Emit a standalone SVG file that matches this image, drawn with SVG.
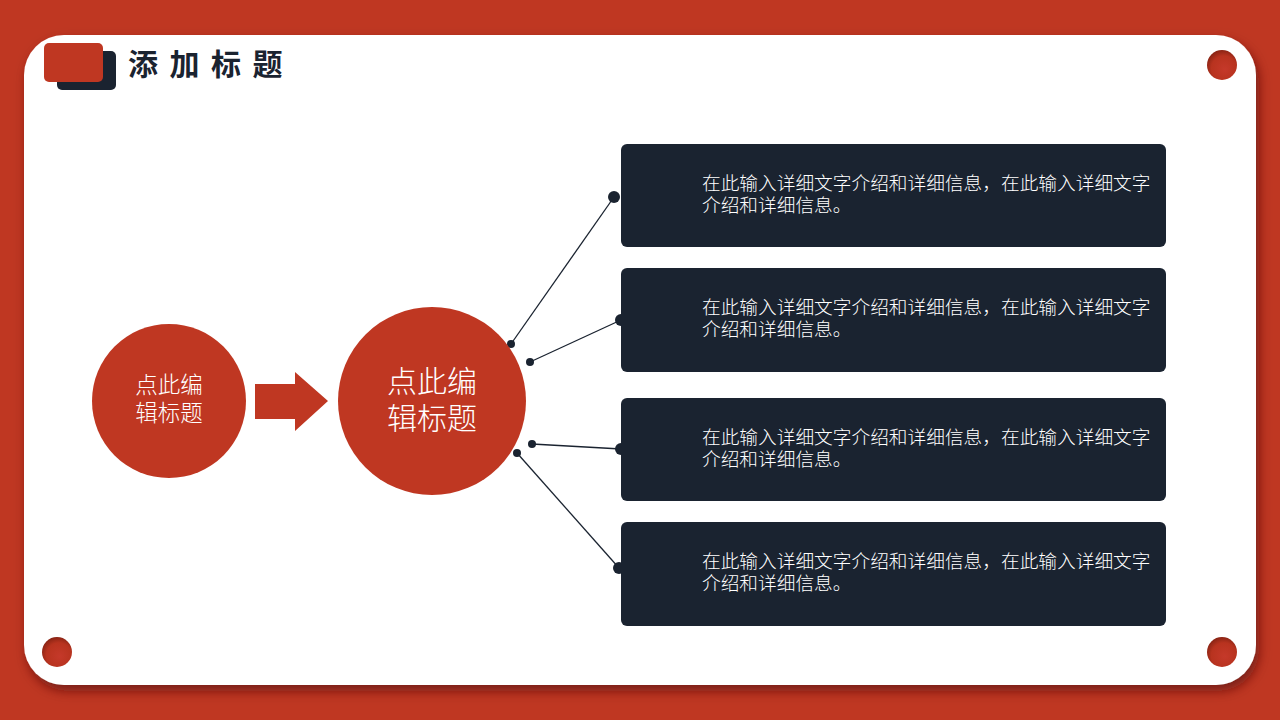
<svg xmlns="http://www.w3.org/2000/svg" width="1280" height="720" viewBox="0 0 1280 720">
<defs>
<filter id="sh" x="-5%" y="-5%" width="110%" height="115%">
<feDropShadow dx="3" dy="6" stdDeviation="6" flood-color="#5a1208" flood-opacity="0.7"/>
</filter>
<radialGradient id="dotg" cx="0.55" cy="0.6" r="0.6" fx="0.6" fy="0.65">
<stop offset="0" stop-color="#C5392A"/>
<stop offset="0.7" stop-color="#B8331F"/>
<stop offset="1" stop-color="#8A2414"/>
</radialGradient>
<style>
.box{fill:#1A2330;}
.red{fill:#BF3722;}
.bt{font-family:"Noto Sans CJK SC","Noto Sans",sans-serif;font-size:18.7px;font-weight:300;fill:#FFFFFF;}
.ct{font-family:"Noto Sans CJK SC","Noto Sans",sans-serif;fill:#FFFFFF;text-anchor:middle;font-weight:300;}
.ln{stroke:#1A2330;stroke-width:1.3;fill:none;}
.dt{fill:#1A2330;}
</style>
</defs>
<rect x="0" y="0" width="1280" height="720" fill="#BF3722"/>
<rect x="24" y="35" width="1232" height="650" rx="40" fill="#FFFFFF" filter="url(#sh)"/>
<g id="corners">
<circle cx="1222" cy="65" r="15" fill="url(#dotg)"/>
<circle cx="57" cy="652" r="15" fill="url(#dotg)"/>
<circle cx="1222" cy="652" r="15" fill="url(#dotg)"/>
</g>
<g id="title">
<rect x="57" y="51" width="59" height="39" rx="5" fill="#1A2330"/>
<rect x="44" y="43" width="59" height="39" rx="5" fill="#BF3722"/>
<text x="128" y="75" font-family="Noto Sans CJK SC, Noto Sans, sans-serif" font-size="30" font-weight="bold" letter-spacing="11.5" fill="#1A2330">添加标题</text>
</g>
<g id="connectors">
<line class="ln" x1="511" y1="344" x2="614" y2="197"/>
<line class="ln" x1="530" y1="362" x2="621" y2="320"/>
<line class="ln" x1="532" y1="444" x2="621" y2="449"/>
<line class="ln" x1="517" y1="453" x2="619" y2="568"/>
<circle class="dt" cx="511" cy="344" r="4"/>
<circle class="dt" cx="614" cy="197" r="6"/>
<circle class="dt" cx="530" cy="362" r="4"/>
<circle class="dt" cx="621" cy="320" r="6"/>
<circle class="dt" cx="532" cy="444" r="4"/>
<circle class="dt" cx="621" cy="449" r="6"/>
<circle class="dt" cx="517" cy="453" r="4"/>
<circle class="dt" cx="619" cy="568" r="6"/>
</g>
<g id="node-c1">
<circle class="red" cx="169" cy="401" r="77"/>
<text class="ct" x="169" y="393" font-size="22.5">点此编</text>
<text class="ct" x="169" y="421" font-size="22.5">辑标题</text>
</g>
<g id="arrow">
<polygon class="red" points="255,384 295,384 295,372 328,401 295,431 295,419 255,419"/>
</g>
<g id="node-c2">
<circle class="red" cx="432" cy="401" r="94"/>
<text class="ct" x="432" y="392" font-size="30">点此编</text>
<text class="ct" x="432" y="429" font-size="30">辑标题</text>
</g>
<g id="box1">
<rect class="box" x="621" y="144" width="545" height="103" rx="6"/>
<text class="bt" x="702" y="190">在此输入详细文字介绍和详细信息，在此输入详细文字</text>
<text class="bt" x="702" y="212">介绍和详细信息。</text>
</g>
<g id="box2">
<rect class="box" x="621" y="268" width="545" height="104" rx="6"/>
<text class="bt" x="702" y="314">在此输入详细文字介绍和详细信息，在此输入详细文字</text>
<text class="bt" x="702" y="336">介绍和详细信息。</text>
</g>
<g id="box3">
<rect class="box" x="621" y="398" width="545" height="103" rx="6"/>
<text class="bt" x="702" y="444">在此输入详细文字介绍和详细信息，在此输入详细文字</text>
<text class="bt" x="702" y="466">介绍和详细信息。</text>
</g>
<g id="box4">
<rect class="box" x="621" y="522" width="545" height="104" rx="6"/>
<text class="bt" x="702" y="568">在此输入详细文字介绍和详细信息，在此输入详细文字</text>
<text class="bt" x="702" y="590">介绍和详细信息。</text>
</g>
</svg>
